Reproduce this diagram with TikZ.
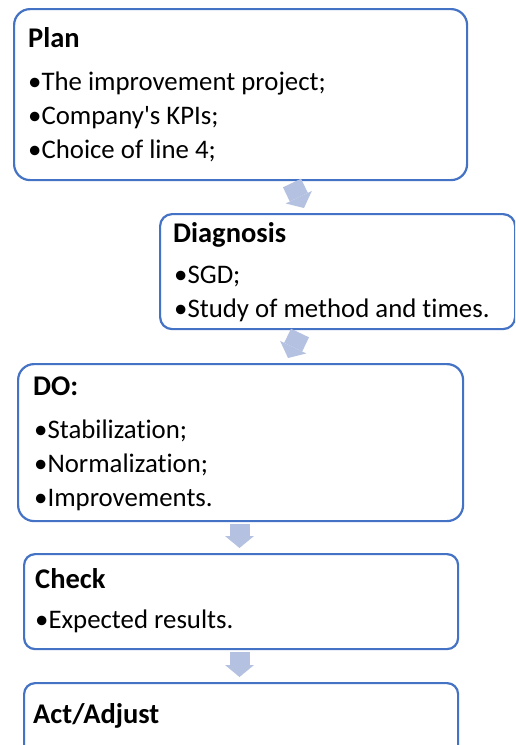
\documentclass[tikz,border=0pt]{standalone}
\usepackage{fontspec}
\setmainfont{Carlito}[Ligatures=NoCommon]
\usepackage{tikz}
\usetikzlibrary{positioning,arrows.meta}
\definecolor{boxblue}{RGB}{68,114,196}
\definecolor{arrowblue}{RGB}{180,193,225}
\tikzset{
  stage/.style={draw=boxblue, line width=2.2pt, fill=white, rounded corners=#1,
    anchor=north west, inner sep=0pt},
  head/.style={anchor=base west, inner sep=0pt, font=\fontsize{28.5}{32}\selectfont\bfseries},
  item/.style={anchor=base west, inner sep=0pt, font=\fontsize{26.8}{30}\selectfont},
  flow/.style={arrowblue, line width=20pt, -{Triangle[width=29pt,length=12pt,line width=0pt]}}
}
\begin{document}
\begin{tikzpicture}[x=1pt,y=-1pt]
\useasboundingbox (0,0) rectangle (515,745);
\clip (0,0) rectangle (515,745);
\node[stage=16pt, minimum width=453pt, minimum height=171pt] (plan) at (13,8) {};
\node[stage=12pt, minimum width=355pt, minimum height=115pt] (diag) at (159,213) {};
\node[stage=16pt, minimum width=445pt, minimum height=157pt] (do) at (17,363) {};
\node[stage=11pt, minimum width=434pt, minimum height=95pt] (check) at (23,553) {};
\node[stage=11pt, minimum width=434pt, minimum height=95pt] (act) at (23,682) {};
\node[head] (plantitle) at (28,47) {Plan};
\node[item] (plan1) at (28,90) {•The improvement project;};
\node[item] (plan2) at (28,124) {•Company\textquotesingle s KPIs;};
\node[item] (plan3) at (28,158) {•Choice of line 4;};
\node[head] (diagtitle) at (173,242) {Diagnosis};
\node[item] (diag1) at (174,283) {•SGD;};
\node[item] (diag2) at (174,317) {•Study of method and times.};
\node[head] (dotitle) at (33,395) {DO:};
\node[item] (do1) at (34,438) {•Stabilization;};
\node[item] (do2) at (34,472) {•Normalization;};
\node[item] (do3) at (34,506) {•Improvements.};
\node[head] (checktitle) at (35,588) {Check};
\node[item] (check1) at (35,628) {•Expected results.};
\node[head] (acttitle) at (33,723) {Act/Adjust};
\coordinate (a1s) at (292,183);
\coordinate (a1e) at (304,208);
\coordinate (a2s) at (300,333);
\coordinate (a2e) at (288,358);
\coordinate (a3s) at (239.5,524);
\coordinate (a3e) at (239.5,548);
\coordinate (a4s) at (239.5,652);
\coordinate (a4e) at (239.5,677);
\draw[flow] (a1s) -- (a1e);
\draw[flow] (a2s) -- (a2e);
\draw[flow] (a3s) -- (a3e);
\draw[flow] (a4s) -- (a4e);
\end{tikzpicture}
\end{document}
